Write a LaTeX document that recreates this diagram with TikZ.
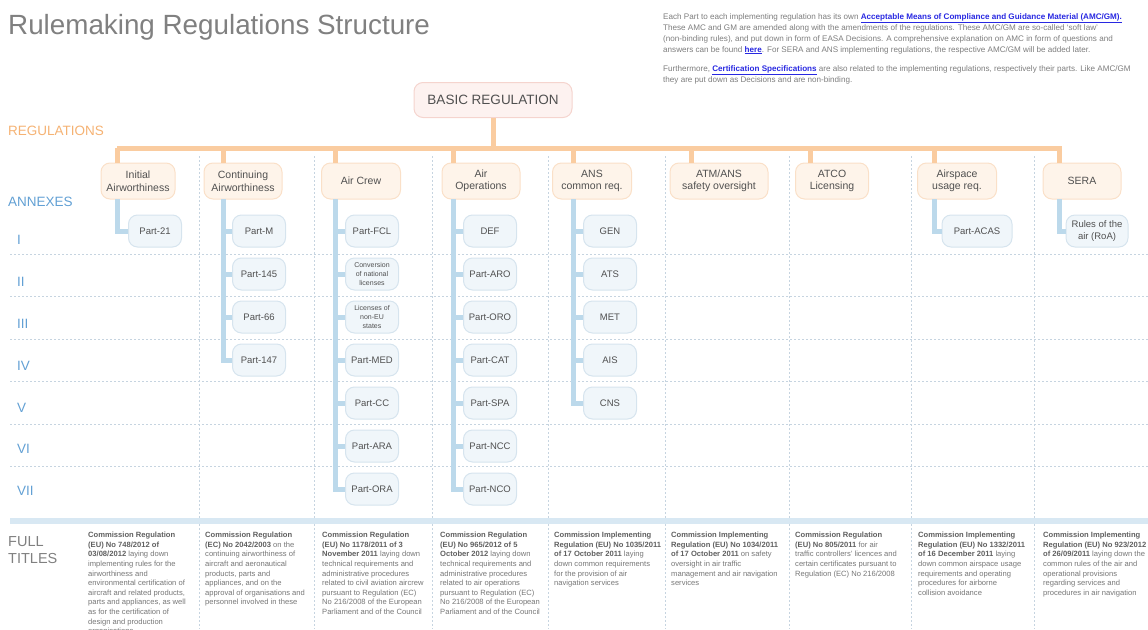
\documentclass[tikz,border=0pt]{standalone}
\usepackage{fontspec}
\setmainfont{Liberation Sans}
\usetikzlibrary{positioning}

\definecolor{titlegray}{RGB}{128,128,128}
\definecolor{notegray}{RGB}{125,125,125}
\definecolor{txtgray}{RGB}{118,118,118}
\definecolor{boldgray}{RGB}{95,95,95}
\definecolor{darkgray}{RGB}{80,80,80}
\definecolor{regorange}{RGB}{245,178,115}
\definecolor{barorange}{RGB}{250,204,160}
\definecolor{regfill}{RGB}{254,244,234}
\definecolor{regdraw}{RGB}{250,224,200}
\definecolor{basicfill}{RGB}{253,242,240}
\definecolor{basicdraw}{RGB}{245,212,206}
\definecolor{annexblue}{RGB}{98,160,212}
\definecolor{spineblue}{RGB}{188,217,235}
\definecolor{partfill}{RGB}{240,246,250}
\definecolor{partdraw}{RGB}{214,228,238}
\definecolor{gridgray}{RGB}{198,212,224}
\definecolor{bandblue}{RGB}{216,232,243}
\definecolor{linkblue}{RGB}{40,40,225}

\newcommand{\weblink}[1]{\textcolor{linkblue}{\underline{\textbf{#1}}}}
\newcommand{\regno}[1]{\textcolor{boldgray}{\textbf{#1}}}

\begin{document}
\begin{tikzpicture}[x=1pt,y=-1pt,
   basicbox/.style={draw=basicdraw,fill=basicfill,line width=1pt,rounded corners=9pt,
                    minimum width=158pt,minimum height=35pt,text=darkgray,
                    font=\fontsize{13.5}{16}\selectfont},
   regbox/.style={draw=regdraw,fill=regfill,line width=1pt,rounded corners=9pt,
                  minimum height=36pt,align=center,text=darkgray,
                  font=\fontsize{10.5}{12.5}\selectfont},
   partbox/.style={draw=partdraw,fill=partfill,line width=1pt,rounded corners=9pt,
                   minimum width=53pt,minimum height=32pt,inner sep=2pt,align=center,
                   text=darkgray,font=\fontsize{9.5}{11.5}\selectfont},
   smallpart/.style={partbox,font=\fontsize{7}{9}\selectfont},
   regline/.style={barorange,line width=5pt},
   annexline/.style={spineblue,line width=5pt},
   gridline/.style={gridgray,line width=0.8pt,dash pattern=on 2pt off 2pt},
   sidelabel/.style={anchor=west,inner sep=0pt,font=\fontsize{13.5}{16}\selectfont},
   fulltitle/.style={anchor=north west,align=left,inner sep=0pt,text=txtgray,
                     font=\fontsize{7.6}{9.6}\selectfont}]
   \useasboundingbox (0,0) rectangle (1148,629);

   % heading and note
   \node (title) at (8,34) [anchor=base west,inner sep=0pt,text=titlegray,
         font=\fontsize{27.8}{32}\selectfont] {Rulemaking Regulations Structure};
   \node (note) at (663,13) [anchor=north west,inner sep=0pt,align=left,text=notegray,
         font=\fontsize{8.1}{11}\selectfont]
     {Each Part to each implementing regulation has its own \weblink{Acceptable Means of Compliance and Guidance Material (AMC/GM).}\\
      These AMC and GM are amended along with the amendments of the regulations. These AMC/GM are so-called ‘soft law’\\
      (non-binding rules), and put down in form of EASA Decisions. A comprehensive explanation on AMC in form of questions and\\
      answers can be found \weblink{here}. For SERA and ANS implementing regulations, the respective AMC/GM will be added later.\\[8pt]
      Furthermore, \weblink{Certification Specifications} are also related to the implementing regulations, respectively their parts. Like AMC/GM\\
      they are put down as Decisions and are non-binding.};

   % side labels
   \node (lblReg)   at (8,131) [sidelabel,text=regorange] {REGULATIONS};
   \node (lblAnnex) at (8,202) [sidelabel,text=annexblue] {ANNEXES};
   \node (rowI)   at (17,240) [sidelabel,text=annexblue] {I};
   \node (rowII)  at (17,282) [sidelabel,text=annexblue] {II};
   \node (rowIII) at (17,324) [sidelabel,text=annexblue] {III};
   \node (rowIV)  at (17,366) [sidelabel,text=annexblue] {IV};
   \node (rowV)   at (17,408) [sidelabel,text=annexblue] {V};
   \node (rowVI)  at (17,449) [sidelabel,text=annexblue] {VI};
   \node (rowVII) at (17,491) [sidelabel,text=annexblue] {VII};
   \node (lblFull) at (8,550) [sidelabel,align=left,text=titlegray,
         font=\fontsize{14.5}{17}\selectfont] {FULL\\TITLES};

   % grid
   \draw[gridline] (10,254) -- (1148,254);
   \draw[gridline] (10,296) -- (1148,296);
   \draw[gridline] (10,339) -- (1148,339);
   \draw[gridline] (10,381) -- (1148,381);
   \draw[gridline] (10,424) -- (1148,424);
   \draw[gridline] (10,466) -- (1148,466);
   \draw[gridline] (199,156) -- (199,629);
   \draw[gridline] (314,156) -- (314,629);
   \draw[gridline] (432,156) -- (432,629);
   \draw[gridline] (548,156) -- (548,629);
   \draw[gridline] (665,156) -- (665,629);
   \draw[gridline] (789,156) -- (789,629);
   \draw[gridline] (911,156) -- (911,629);
   \draw[gridline] (1034,156) -- (1034,629);
   \draw[bandblue,line width=6pt] (10,521) -- (1148,521);

   % regulations
   \node (basic) at (493,100) [basicbox] {BASIC REGULATION};
   \node (regIA)   at (138,181)  [regbox,minimum width=74pt] {Initial\\Airworthiness};
   \node (regCAW)  at (243,181)  [regbox,minimum width=78pt] {Continuing\\Airworthiness};
   \node (regCrew) at (361,181)  [regbox,minimum width=79pt] {Air Crew};
   \node (regOps)  at (481,181)  [regbox,minimum width=78pt] {Air\\Operations};
   \node (regANS)  at (592,181)  [regbox,minimum width=79pt] {ANS\\common req.};
   \node (regATM)  at (719,181)  [regbox,minimum width=98pt] {ATM/ANS\\safety oversight};
   \node (regATCO) at (832,181)  [regbox,minimum width=73pt] {ATCO\\Licensing};
   \node (regAUR)  at (957,181)  [regbox,minimum width=79pt] {Airspace\\usage req.};
   \node (regSERA) at (1082,181) [regbox,minimum width=78pt] {SERA};

   \coordinate (barL) at (117,148);
   \coordinate (barR) at (1062,148);
   \coordinate (spIA)   at (117,199);
   \coordinate (spCAW)  at (223,199);
   \coordinate (spCrew) at (335,199);
   \coordinate (spOps)  at (453,199);
   \coordinate (spANS)  at (573,199);
   \coordinate (spATM)  at (691,199);
   \coordinate (spATCO) at (810,199);
   \coordinate (spAUR)  at (934,199);
   \coordinate (spSERA) at (1059,199);

   \draw[regline] (barL) -- (barR);
   \draw[regline] (basic) -- (basic |- barL);
   \draw[regline] (spIA |- barL)   -- (spIA |- regIA.north);
   \draw[regline] (spCAW |- barL)  -- (spCAW |- regCAW.north);
   \draw[regline] (spCrew |- barL) -- (spCrew |- regCrew.north);
   \draw[regline] (spOps |- barL)  -- (spOps |- regOps.north);
   \draw[regline] (spANS |- barL)  -- (spANS |- regANS.north);
   \draw[regline] (spATM |- barL)  -- (spATM |- regATM.north);
   \draw[regline] (spATCO |- barL) -- (spATCO |- regATCO.north);
   \draw[regline] (spAUR |- barL)  -- (spAUR |- regAUR.north);
   \draw[regline] (spSERA |- barL) -- (spSERA |- regSERA.north);

   % annexes
   \node (part21)  at (155,231) [partbox] {Part-21};

   \node (partM)   at (259,231) [partbox] {Part-M};
   \node (part145) at (259,274) [partbox] {Part-145};
   \node (part66)  at (259,317) [partbox] {Part-66};
   \node (part147) at (259,360) [partbox] {Part-147};

   \node (partFCL) at (372,231) [partbox]   {Part-FCL};
   \node (convNat) at (372,274) [smallpart] {Conversion\\of national\\licenses};
   \node (nonEU)   at (372,317) [smallpart] {Licenses of\\non-EU\\states};
   \node (partMED) at (372,360) [partbox]   {Part-MED};
   \node (partCC)  at (372,403) [partbox]   {Part-CC};
   \node (partARA) at (372,446) [partbox]   {Part-ARA};
   \node (partORA) at (372,489) [partbox]   {Part-ORA};

   \node (def)     at (490,231) [partbox] {DEF};
   \node (partARO) at (490,274) [partbox] {Part-ARO};
   \node (partORO) at (490,317) [partbox] {Part-ORO};
   \node (partCAT) at (490,360) [partbox] {Part-CAT};
   \node (partSPA) at (490,403) [partbox] {Part-SPA};
   \node (partNCC) at (490,446) [partbox] {Part-NCC};
   \node (partNCO) at (490,489) [partbox] {Part-NCO};

   \node (gen) at (610,231) [partbox] {GEN};
   \node (ats) at (610,274) [partbox] {ATS};
   \node (met) at (610,317) [partbox] {MET};
   \node (ais) at (610,360) [partbox] {AIS};
   \node (cns) at (610,403) [partbox] {CNS};

   \node (partACAS) at (977,231)  [partbox,minimum width=70pt] {Part-ACAS};
   \node (rulesAir) at (1097,231) [partbox,minimum width=62pt] {Rules of the\\air (RoA)};

   \draw[annexline] (spIA) |- (part21);

   \draw[annexline] (spCAW) |- (part147);
   \draw[annexline] (spCAW |- partM)   -- (partM);
   \draw[annexline] (spCAW |- part145) -- (part145);
   \draw[annexline] (spCAW |- part66)  -- (part66);

   \draw[annexline] (spCrew) |- (partORA);
   \draw[annexline] (spCrew |- partFCL) -- (partFCL);
   \draw[annexline] (spCrew |- convNat) -- (convNat);
   \draw[annexline] (spCrew |- nonEU)   -- (nonEU);
   \draw[annexline] (spCrew |- partMED) -- (partMED);
   \draw[annexline] (spCrew |- partCC)  -- (partCC);
   \draw[annexline] (spCrew |- partARA) -- (partARA);

   \draw[annexline] (spOps) |- (partNCO);
   \draw[annexline] (spOps |- def)     -- (def);
   \draw[annexline] (spOps |- partARO) -- (partARO);
   \draw[annexline] (spOps |- partORO) -- (partORO);
   \draw[annexline] (spOps |- partCAT) -- (partCAT);
   \draw[annexline] (spOps |- partSPA) -- (partSPA);
   \draw[annexline] (spOps |- partNCC) -- (partNCC);

   \draw[annexline] (spANS) |- (cns);
   \draw[annexline] (spANS |- gen) -- (gen);
   \draw[annexline] (spANS |- ats) -- (ats);
   \draw[annexline] (spANS |- met) -- (met);
   \draw[annexline] (spANS |- ais) -- (ais);

   \draw[annexline] (spAUR) |- (partACAS);
   \draw[annexline] (spSERA) |- (rulesAir);

   % full titles
   \node (ftIA) at (88,532) [fulltitle]
     {\regno{Commission Regulation}\\ \regno{(EU) No 748/2012 of}\\ \regno{03/08/2012} laying down\\
      implementing rules for the\\ airworthiness and\\ environmental certification of\\
      aircraft and related products,\\ parts and appliances, as well\\ as for the certification of\\
      design and production\\ organisations};
   \node (ftCAW) at (205,532) [fulltitle]
     {\regno{Commission Regulation}\\ \regno{(EC) No 2042/2003} on the\\ continuing airworthiness of\\
      aircraft and aeronautical\\ products, parts and\\ appliances, and on the\\
      approval of organisations and\\ personnel involved in these};
   \node (ftCrew) at (322,532) [fulltitle]
     {\regno{Commission Regulation}\\ \regno{(EU) No 1178/2011 of 3}\\ \regno{November 2011} laying down\\
      technical requirements and\\ administrative procedures\\ related to civil aviation aircrew\\
      pursuant to Regulation (EC)\\ No 216/2008 of the European\\ Parliament and of the Council};
   \node (ftOps) at (440,532) [fulltitle]
     {\regno{Commission Regulation}\\ \regno{(EU) No 965/2012 of 5}\\ \regno{October 2012} laying down\\
      technical requirements and\\ administrative procedures\\ related to air operations\\
      pursuant to Regulation (EC)\\ No 216/2008 of the European\\ Parliament and of the Council};
   \node (ftANS) at (554,532) [fulltitle]
     {\regno{Commission Implementing}\\ \regno{Regulation (EU) No 1035/2011}\\ \regno{of 17 October 2011} laying\\
      down common requirements\\ for the provision of air\\ navigation services};
   \node (ftATM) at (671,532) [fulltitle]
     {\regno{Commission Implementing}\\ \regno{Regulation (EU) No 1034/2011}\\ \regno{of 17 October 2011} on safety\\
      oversight in air traffic\\ management and air navigation\\ services};
   \node (ftATCO) at (795,532) [fulltitle]
     {\regno{Commission Regulation}\\ \regno{(EU) No 805/2011} for air\\ traffic controllers' licences and\\
      certain certificates pursuant to\\ Regulation (EC) No 216/2008};
   \node (ftAUR) at (918,532) [fulltitle]
     {\regno{Commission Implementing}\\ \regno{Regulation (EU) No 1332/2011}\\ \regno{of 16 December 2011} laying\\
      down common airspace usage\\ requirements and operating\\ procedures for airborne\\ collision avoidance};
   \node (ftSERA) at (1043,532) [fulltitle]
     {\regno{Commission Implementing}\\ \regno{Regulation (EU) No 923/2012}\\ \regno{of 26/09/2011} laying down the\\
      common rules of the air and\\ operational provisions\\ regarding services and\\ procedures in air navigation};
\end{tikzpicture}
\end{document}
